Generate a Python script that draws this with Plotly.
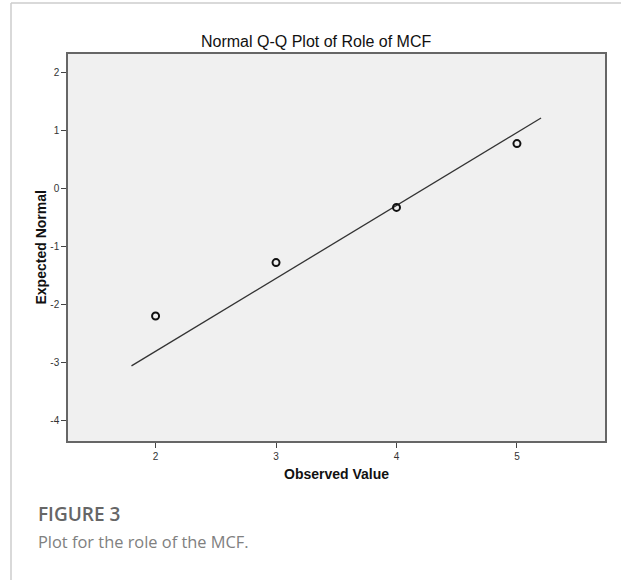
import plotly.graph_objects as go

# Data
observed = [2, 3, 4, 5]
expected_normal = [-2.19, -1.27, -0.32, 0.78]
line_x = [1.80, 5.20]
line_y = [-3.05, 1.22]
x_ticks = [2, 3, 4, 5]
y_ticks = [2, 1, 0, -1, -2, -3, -4]

W, H = 621, 580
L, R, T, B = 68, 16, 54, 139
ph = H - T - B
pw = W - L - R

def py(Y):
    return (H - B - Y) / ph

def px(X):
    return (X - L) / pw

fig = go.Figure()
fig.add_trace(go.Scatter(x=line_x, y=line_y, mode="lines",
                         line=dict(color="#333333", width=1.3),
                         hoverinfo="skip", showlegend=False))
fig.add_trace(go.Scatter(x=observed, y=expected_normal, mode="markers",
                         marker=dict(symbol="circle-open", size=7, color="#111111",
                                     line=dict(width=2, color="#111111")),
                         showlegend=False))

axis_common = dict(showline=True, linecolor="#666666", linewidth=1.5, mirror=True,
                   ticks="outside", ticklen=5, tickcolor="#444444", tickwidth=1,
                   showgrid=False, zeroline=False,
                   tickfont=dict(family="Liberation Sans, Arial", size=10, color="#333333"))

fig.update_layout(
    width=W, height=H,
    margin=dict(l=L, r=R, t=T, b=B, pad=0),
    paper_bgcolor="white", plot_bgcolor="#f0f0f0",
    xaxis=dict(range=[1.273, 5.731], tickvals=x_ticks, ticktext=[str(v) for v in x_ticks],
               **axis_common),
    yaxis=dict(range=[-4.345, 2.324], tickvals=y_ticks, ticktext=[str(v) for v in y_ticks],
               **axis_common),
    showlegend=False,
)

ann = []
ann.append(dict(text="Normal Q-Q Plot of Role of MCF", x=px(316), y=py(41), xref="paper", yref="paper",
                showarrow=False, xanchor="center", yanchor="middle",
                font=dict(family="Liberation Sans, Arial", size=16, color="#111111")))
ann.append(dict(text="<b>Observed Value</b>", x=0.5, y=py(474), xref="paper", yref="paper",
                showarrow=False, xanchor="center", yanchor="middle",
                font=dict(family="Liberation Sans, Arial", size=14, color="#111111")))
ann.append(dict(text="<b>Expected Normal</b>", x=px(40), y=0.5, xref="paper", yref="paper",
                showarrow=False, xanchor="center", yanchor="middle", textangle=-90,
                font=dict(family="Liberation Sans, Arial", size=14, color="#111111")))
ann.append(dict(text="FIGURE 3", x=px(36), y=py(514), xref="paper", yref="paper",
                showarrow=False, xanchor="left", yanchor="middle",
                font=dict(family="Open Sans", size=19, weight=600, color="#666666")))
ann.append(dict(text="Plot for the role of the MCF.", x=px(36), y=py(541), xref="paper", yref="paper",
                showarrow=False, xanchor="left", yanchor="middle",
                font=dict(family="Open Sans", size=16.4, color="#808080")))
fig.update_layout(annotations=ann)

# card border (left and top)
fig.add_shape(type="line", xref="paper", yref="paper", x0=px(11), x1=px(11), y0=py(3), y1=py(580),
              line=dict(color="#cccccc", width=1.5))
fig.add_shape(type="line", xref="paper", yref="paper", x0=px(11), x1=px(621), y0=py(3), y1=py(3),
              line=dict(color="#cccccc", width=1.5))

fig.write_html("out.html")
